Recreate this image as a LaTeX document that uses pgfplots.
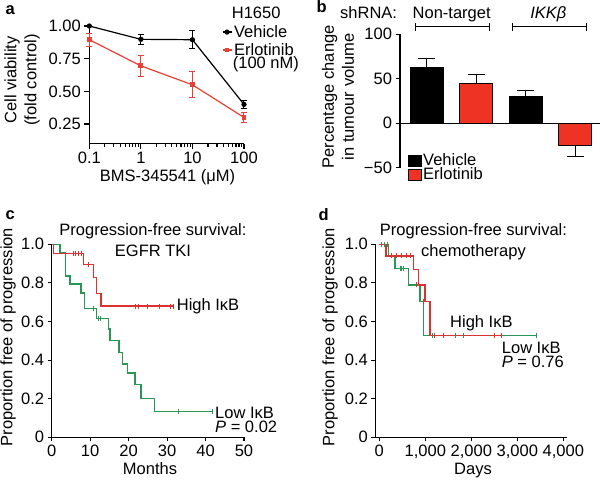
\documentclass[border=0pt]{standalone}
\usepackage{pgfplots}
\pgfplotsset{compat=1.18}
\usepackage{fontspec}
\setmainfont{Liberation Sans}
\definecolor{kmred}{RGB}{220,50,45}
\definecolor{kmgreen}{RGB}{40,150,85}
\definecolor{ared}{RGB}{230,65,55}
\definecolor{bred}{RGB}{238,50,36}
\newcommand\fs{\fontsize{16.5}{20}\selectfont}
\pgfplotsset{
  base/.style={scale only axis, clip=false, anchor=south west,
    axis line style={line width=1.1pt,-}, tick style={line width=1.1pt,black},
    tick align=outside, major tick length=4pt,
    tick label style={font=\fs}, /pgf/number format/assume math mode=true,
    axis x line*=bottom, axis y line*=left},
  km/.style={const plot, line width=1.4pt},
  cens/.style={only marks, mark=|, mark size=2.5pt, mark options={line width=1pt}},
}
\begin{document}
\begin{tikzpicture}[x=1pt,y=1pt,font=\fs]
\useasboundingbox (0,0) rectangle (600,481);

% ---------------- panel a
\begin{axis}[base, at={(89.3pt,337.4pt)}, width=154.7pt, height=117.6pt,
  xmode=log, xmin=0.1, xmax=100, ymin=0.1, ymax=1.0,
  xtick={0.1,1,10,100}, xticklabels={0.1,1,10,100},
  ytick={0.25,0.5,0.75,1}, yticklabels={0.25,0.50,0.75,1.00},
  major tick length=5pt, minor tick length=3pt,
  legend style={draw=none, fill=none, at={(0.856,0.872)}, anchor=west,
    inner sep=0pt, font=\fs, row sep=0.5pt},
  legend cell align=left,
  legend image code/.code={\draw[mark repeat=2,mark phase=2,#1] plot coordinates {(0pt,0pt) (4.5pt,0pt) (9pt,0pt)};},
  error bars/error bar style={line width=1pt},
  error bars/error mark options={rotate=90, mark size=3pt, line width=1pt},
]
\addplot[black, line width=1.2pt, mark=*, mark size=2pt,
  error bars/.cd, y dir=both, y explicit]
  coordinates {(0.1,1.0) +- (0,0) (1,0.898) +- (0,0.038) (10,0.895) +- (0,0.07) (100,0.40) +- (0,0.03)};
\addlegendentry{Vehicle}
\addplot[ared, line width=1.2pt, mark=square*, mark size=1.8pt,
  error bars/.cd, y dir=both, y explicit]
  coordinates {(0.1,0.895) +- (0,0.05) (1,0.695) +- (0,0.078) (10,0.55) +- (0,0.10) (100,0.30) +- (0,0.035)};
\addlegendentry{Erlotinib}
\end{axis}

% ---------------- panel b
\begin{axis}[base, at={(400pt,313.3pt)}, width=200pt, height=133.4pt,
  xmin=0.46, xmax=4.5, ymin=-50, ymax=100, axis x line=none,
  ytick={-50,0,50,100}, yticklabels={−50,0,50,100}, major tick length=4.5pt,
  error bars/error bar style={line width=1pt,black},
  error bars/error mark options={rotate=90, mark size=8.7pt, line width=1pt, black},
]
\draw[line width=1.1pt] (axis cs:0.46,0) -- (axis cs:4.5,0);
\addplot[ybar, bar width=0.667, bar shift=0pt, fill=black, draw=black, line width=1pt,
  error bars/.cd, y dir=plus, y explicit]
  coordinates {(1,63) +- (0,9.5) (3,30) +- (0,7)};
\addplot[ybar, bar width=0.667, bar shift=0pt, fill=bred, draw=black, line width=1pt,
  error bars/.cd, y dir=plus, y explicit]
  coordinates {(2,45) +- (0,10)};
\addplot[ybar, bar width=0.667, bar shift=0pt, fill=bred, draw=black, line width=1pt,
  error bars/.cd, y dir=minus, y explicit]
  coordinates {(4,-25.5) +- (0,12)};
\end{axis}

% ---------------- panel c
\begin{axis}[base, at={(51.7pt,43.7pt)}, width=192.3pt, height=193pt,
  xmin=0, xmax=50, ymin=0, ymax=1,
  xtick={0,10,20,30,40,50}, xticklabels={0,10,20,30,40,50},
  ytick={0,0.2,0.4,0.6,0.8,1}, yticklabels={0,0.2,0.4,0.6,0.8,1.0},
]
\addplot[km, kmgreen] coordinates {(0,1) (2.2,0.958) (3.6,0.835) (4.8,0.795) (7.6,0.748) (8.5,0.667) (11.7,0.617) (14.7,0.561) (15.2,0.50) (17.5,0.44) (18.4,0.38) (19.7,0.333) (21.7,0.272) (23.2,0.20) (26.7,0.135) (41.7,0.135)};
\addplot[cens, kmgreen] coordinates {(10.8,0.667) (12.1,0.617) (12.7,0.617) (32.9,0.135) (41.7,0.135)};
\addplot[km, kmred] coordinates {(0,1) (0.5,0.953) (8.3,0.896) (10.8,0.827) (11.7,0.745) (12.8,0.68) (31.6,0.68)};
\addplot[cens, kmred] coordinates {(5.6,0.953) (6.3,0.953) (7.0,0.953) (7.7,0.953) (9.5,0.896) (21.8,0.68) (22.5,0.68) (24.9,0.68) (27.9,0.68) (30.8,0.68) (31.6,0.68)};
\end{axis}

% ---------------- panel d
\begin{axis}[base, at={(375.3pt,43.7pt)}, width=191.4pt, height=193pt,
  xmin=-87, xmax=4074, ymin=0, ymax=1,
  xtick={0,1000,2000,3000,4000}, xticklabels={0,{1,000},{2,000},{3,000},{4,000}},
  ytick={0,0.2,0.4,0.6,0.8,1}, yticklabels={0,0.2,0.4,0.6,0.8,1.0},
]
\addplot[km, kmgreen] coordinates {(0,1) (200,0.94) (341,0.876) (630,0.79) (885,0.705) (957,0.528) (3407,0.528)};
\addplot[cens, kmgreen] coordinates {(40,1) (110,1) (170,1) (450,0.876) (490,0.876) (520,0.876) (1160,0.528) (1190,0.528) (1667,0.528) (1835,0.528) (2660,0.528) (3407,0.528)};
\addplot[km, kmred] coordinates {(0,1) (146,0.94) (745,0.868) (848,0.79) (993,0.705) (1102,0.528) (2660,0.528)};
\addplot[cens, kmred] coordinates {(269,0.94) (377,0.94) (487,0.94) (596,0.94) (683,0.94) (813,0.79) (960,0.705) (1190,0.528) (1400,0.528) (2500,0.528) (2660,0.528)};
\end{axis}

% ---------------- text
\node[anchor=base west, font=\fs\bfseries] at (2,466) {a};
\node[anchor=base west, font=\fs\bfseries] at (313,468) {b};
\node[anchor=base west, font=\fs\bfseries] at (2,261) {c};
\node[anchor=base west, font=\fs\bfseries] at (315,260) {d};

\node[anchor=base west, inner sep=0] at (231.7,462.7) {H1650};
\node[anchor=base west, inner sep=0] at (232.7,412.7) {(100 nM)};
\node[rotate=90, align=center] at (22,401) {Cell viability\\(fold control)};
\node[anchor=base] at (167.5,299.3) {BMS-345541 (μM)};

\node[anchor=base west, inner sep=0] at (340,462) {shRNA:};
\node[anchor=base, inner sep=0] at (451.7,462) {Non-target};
\node[anchor=base, inner sep=0] at (548.3,462) {\textit{IKKβ}};
\draw[line width=1pt] (415,454.3) -- (489.3,454.3) (415,450.3) -- (415,458.3) (489.3,450.3) -- (489.3,458.3);
\draw[line width=1pt] (512.3,454.3) -- (586.7,454.3) (512.3,450.3) -- (512.3,458.3) (586.7,450.3) -- (586.7,458.3);
\node[rotate=90, align=center] at (338,384) {Percentage change\\in tumour volume};
\draw[fill=black, line width=0.8pt] (408.3,315) rectangle (421.7,326);
\draw[fill=bred, line width=0.8pt] (408.3,301) rectangle (421.7,311.7);
\node[anchor=base west, inner sep=0] at (423,315) {Vehicle};
\node[anchor=base west, inner sep=0] at (423,301) {Erlotinib};

\node[anchor=base, inner sep=0] at (153,245) {Progression-free survival:};
\node[anchor=base, inner sep=0] at (153,224.3) {EGFR TKI};
\node[anchor=base west, inner sep=0] at (176.7,170.3) {High IκB};
\node[anchor=base west, inner sep=0] at (215,62.7) {Low IκB};
\node[anchor=base west, inner sep=0] at (215,48.7) {\textit{P} = 0.02};
\node[anchor=base, inner sep=0] at (150,6) {Months};
\node[rotate=90] at (8,144) {Proportion free of progression};

\node[anchor=base, inner sep=0] at (473.5,245) {Progression-free survival:};
\node[anchor=base, inner sep=0] at (473.5,224.3) {chemotherapy};
\node[anchor=base west, inner sep=0] at (450,153.7) {High IκB};
\node[anchor=base west, inner sep=0] at (501.7,127.7) {Low IκB};
\node[anchor=base west, inner sep=0] at (501.7,113.7) {\textit{P} = 0.76};
\node[anchor=base, inner sep=0] at (473,6) {Days};
\node[rotate=90] at (330,144) {Proportion free of progression};
\end{tikzpicture}
\end{document}
